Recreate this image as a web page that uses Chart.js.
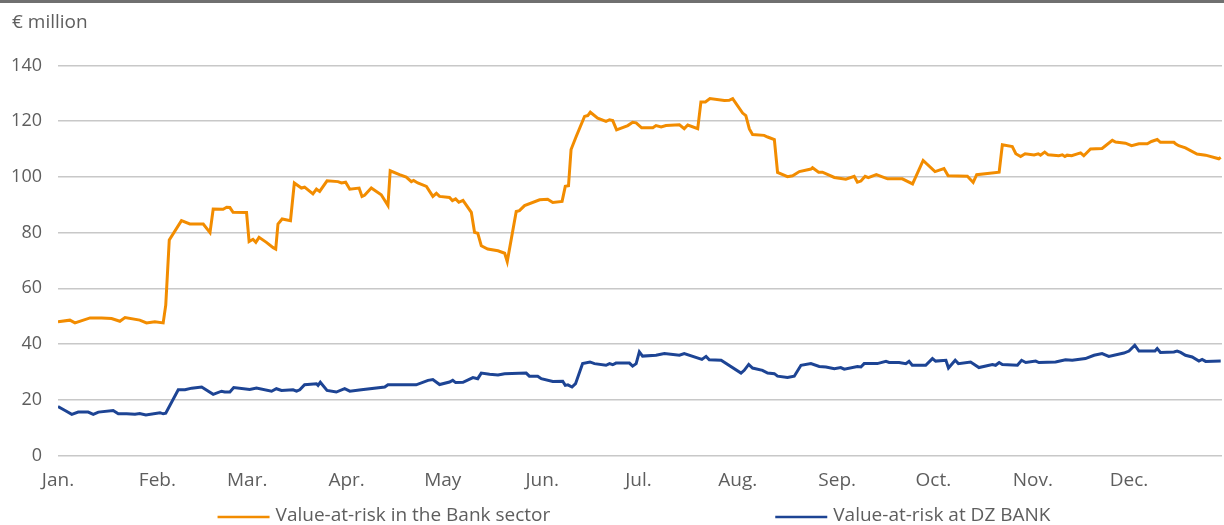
<!DOCTYPE html>
<html>
<head>
<meta charset="utf-8">
<script src="https://cdn.jsdelivr.net/npm/chart.js@4/dist/chart.umd.min.js"></script>
<style>
html,body{margin:0;padding:0;background:#fff;}
#wrap{position:relative;width:1224px;height:525px;}
</style>
</head>
<body>
<div id="wrap"><canvas id="c" width="1224" height="525"></canvas></div>
<script>
// Month tick positions (day of year) and labels
const monthStarts = [0, 31, 59, 90, 120, 151, 181, 212, 243, 273, 304, 334];
const monthLabels = ['Jan.', 'Feb.', 'Mar.', 'Apr.', 'May', 'Jun.', 'Jul.', 'Aug.', 'Sep.', 'Oct.', 'Nov.', 'Dec.'];
const yTicks = [0, 20, 40, 60, 80, 100, 120, 140];

// Value-at-risk in the Bank sector (€ million), x = day of year
const bankDays = [0,3.7,5.3,10,13.6,16.7,19.3,20.9,25.5,27.6,30.2,32.8,33.6,34.7,38.5,41.1,45.3,47.4,48.4,51.5,52.6,53.6,54.6,58.8,59.6,60.8,61.7,62.7,65,67.1,67.9,68.6,69.9,72.5,73.7,75.9,76.9,79.5,80.6,81.6,83.9,87.3,88.4,89.7,91,93.9,94.8,95.6,97.7,100.8,102.9,103.6,106.5,108.6,110.2,110.9,112.2,114.9,116.9,118,119,122.1,123,124,125,126.3,128.9,129.9,130.9,132,134,137.2,139.3,140.1,142.9,143.9,145.5,150.2,152.7,154.3,157.2,158.2,159.2,160,161.6,164.2,165.2,166,168.3,170.9,172,173,174.2,177.7,179.2,180.3,182,185.5,186.5,188.1,189.6,193.8,195.3,196.4,199.5,200.5,201.9,203.3,207.8,209.3,210.4,213.5,214.5,215.6,216.6,220.2,221.3,223.4,224.4,227.5,229.1,231.2,234.8,235.3,237.2,238.4,242.1,245.7,248.3,249.3,250.4,251.7,252.7,255.2,258.7,263.3,266.5,269.8,273.5,276.3,277.6,283.6,285.4,286.5,293.5,294.5,297.6,298.7,300.2,301.6,304.4,305.7,306.4,307.7,308.8,312.1,313.2,314,314.7,316.1,318.9,319.9,322,325.6,328.8,329.8,332.9,334.8,337.1,339.7,341,342.8,343.8,348,348.5,349.5,351.6,355.2,357.9,362,362.6];
const bankValues = [48,48.6,47.6,49.4,49.4,49.2,48.2,49.5,48.6,47.6,48,47.6,54,77.4,84.3,83.1,83.1,80,88.5,88.4,89.1,89,87.3,87.2,76.8,77.6,76.5,78.3,76.5,74.6,74.1,83.1,84.9,84.3,97.8,96,96.3,93.9,95.6,94.8,98.6,98.3,97.8,98.1,95.6,96,93,93.4,96,93.6,89.7,102.2,100.8,99.9,98.3,98.7,97.8,96.6,93,94.1,93,92.6,91.5,92.1,90.9,91.6,87.3,80.1,79.8,75.3,74.1,73.5,72.6,69.6,87.6,87.9,89.7,91.8,92,90.8,91.2,96.6,96.8,109.8,114.5,121.7,122,123.2,121.1,119.9,120.5,120.2,116.9,118.4,119.6,119.4,117.6,117.6,118.4,117.9,118.4,118.7,117.3,118.6,117.3,126.9,126.9,128.1,127.4,127.5,128.1,122.9,122,117.2,115.2,114.9,114.3,113.4,101.6,100.1,100.4,101.9,102.8,103.3,101.7,101.7,99.8,99.2,100.2,98.1,98.5,100.2,99.7,100.8,99.3,99.3,97.5,105.9,101.9,103,100.4,100.2,98,100.8,101.7,111.5,110.9,108.3,107.3,108.3,107.9,108.3,107.8,108.9,107.9,107.6,107.9,107.3,107.8,107.6,108.6,107.6,110,110.2,113.1,112.5,112.1,111.2,111.9,111.9,112.7,113.4,112.4,112.4,111.9,111.2,110.4,108.2,107.8,106.5,107];

// Value-at-risk at DZ BANK (€ million), x = day of year
const dzDays = [0,2.2,4.3,6.3,9.4,11,12.6,17.2,18.8,21.4,24,25.5,27.4,31.8,32.8,33.6,37.5,39.6,41.7,44.8,48.4,51,52,53.6,54.8,59.8,61.9,66.6,68.1,69.7,73.3,74.4,75.4,76.9,80.6,81.1,81.8,83.9,86.8,89.4,91,94.6,101.9,102.9,111.7,115.4,116.9,119,122.1,123.1,124,126.3,129.4,130.9,132,134.6,137.2,139.3,146,147,149.6,150.7,154.3,157.4,158.2,159,160.3,161.4,163.6,165.9,167.3,170.9,172,173,174,178.2,179.2,180.3,181.3,182.3,186.5,189.1,193.8,195.3,200.8,202.1,203.1,206.8,213,214,215.4,216.6,219.7,221.3,223.4,224.4,227.5,229.6,231.7,234.8,237.4,239.5,242.1,244.1,245.2,249.3,250.4,251.4,255.5,258.2,259.2,262.3,264.4,265.4,266.4,270.6,272.7,273.7,276.9,277.7,279.8,280.8,284.6,287.2,291.4,292.4,293.5,294.5,299.2,300.5,301.8,304.9,305.9,311.1,314.2,316.3,320.4,323.1,325.6,327.7,332.4,334,335.8,337.1,342.1,342.8,343.8,348,349,350.1,351.6,353.7,355.8,356.8,357.9,362.6];
const dzValues = [17.6,16.2,14.8,15.6,15.6,14.8,15.6,16.2,15,15,14.8,15.1,14.6,15.4,15,15.2,23.6,23.6,24.2,24.6,22,23.1,22.8,22.8,24.4,23.7,24.2,23.1,24,23.4,23.6,23.1,23.6,25.4,25.8,25.2,26.3,23.4,22.8,24,23.1,23.6,24.6,25.4,25.4,27,27.3,25.5,26.4,27,26.2,26.3,28,27.6,29.6,29.2,28.9,29.4,29.6,28.5,28.5,27.6,26.6,26.7,25.2,25.4,24.6,25.8,33,33.6,33,32.4,33,32.6,33.2,33.2,32.1,33,37.2,35.7,36,36.6,36,36.6,34.5,35.6,34.4,34.2,29.6,30.6,32.7,31.4,30.6,29.6,29.4,28.5,28,28.5,32.4,33,32,31.8,31.2,31.6,31,32,31.8,33,33,33.8,33.4,33.4,33,33.8,32.4,32.4,34.8,33.9,34.2,31.4,34.2,33,33.6,31.6,32.7,32.4,33.4,32.7,32.4,34.2,33.4,33.9,33.4,33.6,34.4,34.2,34.8,36,36.6,35.6,36.8,37.5,39.6,37.5,37.5,38.4,37,37.2,37.5,37,36,35.4,33.9,34.5,33.8,33.9];

const seriesLabels = ['Value-at-risk in the Bank sector', 'Value-at-risk at DZ BANK'];
const seriesColors = ['#F28C00', '#1D4494'];

const toPoints = (xs, ys) => xs.map((x, i) => ({x: x, y: ys[i]}));

const FONT = "'Open Sans', 'Noto Sans', sans-serif";
const TEXT = '#5e5e5e';

const decoPlugin = {
  id: 'deco',
  beforeDraw(chart) {
    const ctx = chart.ctx;
    ctx.save();
    ctx.fillStyle = '#707070';
    ctx.fillRect(0, 0, chart.width, 3);
    ctx.restore();
  },
  afterDraw(chart) {
    const ctx = chart.ctx;
    const ca = chart.chartArea;
    ctx.save();
    ctx.font = "19px " + FONT;
    ctx.textBaseline = 'middle';
    const lineLen = 52, gapTxt = 6, itemGap = 225;
    const items = chart.data.datasets.map(ds => ({label: ds.label, color: ds.borderColor, w: lineLen + gapTxt + ctx.measureText(ds.label).width}));
    const total = items.reduce((s, it) => s + it.w, 0) + itemGap * (items.length - 1);
    let x = (ca.left + ca.right) / 2 - total / 2 - 6;
    const y = 517;
    items.forEach(it => {
      ctx.strokeStyle = it.color;
      ctx.lineWidth = 2.5;
      ctx.beginPath();
      ctx.moveTo(x, y);
      ctx.lineTo(x + lineLen, y);
      ctx.stroke();
      ctx.fillStyle = TEXT;
      ctx.textAlign = 'left';
      ctx.fillText(it.label, x + lineLen + gapTxt, y - 1);
      x += it.w + itemGap;
    });
    ctx.restore();
  }
};

new Chart(document.getElementById('c'), {
  type: 'line',
  data: {
    datasets: [
      {label: seriesLabels[0], data: toPoints(bankDays, bankValues), borderColor: seriesColors[0], backgroundColor: seriesColors[0], borderWidth: 3, pointRadius: 0, tension: 0, fill: false},
      {label: seriesLabels[1], data: toPoints(dzDays, dzValues), borderColor: seriesColors[1], backgroundColor: seriesColors[1], borderWidth: 3, pointRadius: 0, tension: 0, fill: false}
    ]
  },
  options: {
    responsive: false,
    animation: false,
    events: [],
    layout: {padding: {left: 12, right: 2, top: 0, bottom: 18.6}},
    plugins: {
      legend: {display: false},
      tooltip: {enabled: false},
      title: {
        display: true,
        text: '€ million',
        align: 'start',
        color: TEXT,
        font: {family: FONT, size: 19, weight: 'normal'},
        padding: {top: 11, bottom: 31.6}
      }
    },
    scales: {
      x: {
        type: 'linear',
        min: 0,
        max: 363,
        grid: {display: false, drawTicks: false},
        border: {display: false},
        afterBuildTicks(scale) { scale.ticks = monthStarts.map(v => ({value: v})); },
        ticks: {
          autoSkip: false,
          maxRotation: 0,
          padding: 14,
          color: TEXT,
          font: {family: FONT, size: 19},
          callback(value) { const i = monthStarts.indexOf(value); return i >= 0 ? monthLabels[i] : ''; }
        }
      },
      y: {
        min: 0,
        max: 140,
        afterBuildTicks(scale) { scale.ticks = yTicks.map(v => ({value: v})); },
        afterFit(scale) { scale.width = 46; },
        grid: {color: '#c8c8c8', lineWidth: 1.5, drawTicks: false},
        border: {display: false},
        ticks: {
          padding: 16,
          color: TEXT,
          font: {family: FONT, size: 18}
        }
      }
    }
  },
  plugins: [decoPlugin]
});
</script>
</body>
</html>
